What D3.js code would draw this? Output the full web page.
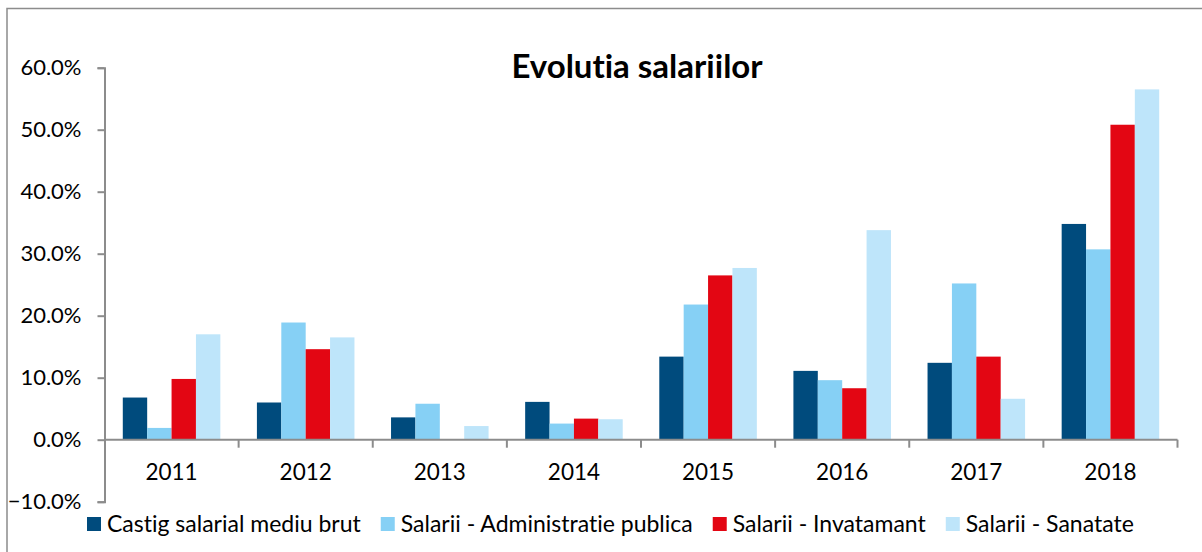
<!DOCTYPE html>
<html>
<head>
<meta charset="utf-8">
<script src="https://cdn.jsdelivr.net/npm/d3@7"></script>
<style>
  body { margin: 0; background: #fff; }
  svg { display: block; font-family: Lato, "Open Sans", sans-serif; font-variant-ligatures: none; }
</style>
</head>
<body>
<svg id="chart"></svg>
<script>
// data
var years = ["2011", "2012", "2013", "2014", "2015", "2016", "2017", "2018"]
var seriesNames = ["Castig salarial mediu brut", "Salarii - Administratie publica", "Salarii - Invatamant", "Salarii - Sanatate"]
var castig = [6.8, 6.0, 3.6, 6.1, 13.4, 11.1, 12.4, 34.8]
var administratie = [1.9, 18.9, 5.8, 2.6, 21.8, 9.6, 25.2, 30.7]
var invatamant = [9.8, 14.6, 0, 3.4, 26.5, 8.3, 13.4, 50.8]
var sanatate = [17.0, 16.5, 2.2, 3.3, 27.7, 33.8, 6.6, 56.5]
var yTicks = [-10, 0, 10, 20, 30, 40, 50, 60]
var colors = ["#004b7d", "#86d0f5", "#e30613", "#bee5fa"]

var values = [castig, administratie, invatamant, sanatate]

var screen = {width: 1202, height: 552}
var plot = {left: 104.5, right: 1177.5, top: 67.7, bottom: 501.7}

var svg = d3.select("#chart")
    .attr("width", screen.width)
    .attr("height", screen.height)

// chart frame
svg.append("rect")
    .attr("x", 7)
    .attr("y", 8.5)
    .attr("width", screen.width + 20)
    .attr("height", screen.height + 20)
    .attr("fill", "none")
    .attr("stroke", "#8c8c8c")
    .attr("stroke-width", 1.5)

var x0 = d3.scaleBand()
    .domain(years)
    .range([plot.left, plot.right])

var x1 = d3.scaleBand()
    .domain(d3.range(seriesNames.length))
    .range([0, x0.bandwidth()])
    .paddingOuter(0.75)

var yScale = d3.scaleLinear()
    .domain([-10, 60])
    .range([plot.bottom, plot.top])

// title
svg.append("text")
    .attr("x", 637)
    .attr("y", 77.5)
    .attr("text-anchor", "middle")
    .attr("font-size", 33)
    .attr("font-weight", "bold")
    .attr("fill", "#000")
    .text("Evolutia salariilor")

// bars
var groups = svg.append("g")
    .selectAll("g")
    .data(years)
    .enter()
    .append("g")
    .attr("transform", function(d) { return "translate(" + x0(d) + ",0)" })

groups.selectAll("rect")
    .data(function(d, i)
        {
            return values.map(function(v, s) { return {s: s, v: v[i]} })
        })
    .enter()
    .filter(function(d) { return d.v !== 0 })
    .append("rect")
    .attr("x", function(d) { return x1(d.s) })
    .attr("width", x1.bandwidth())
    .attr("y", function(d) { return yScale(Math.max(0, d.v)) })
    .attr("height", function(d) { return Math.abs(yScale(d.v) - yScale(0)) })
    .attr("fill", function(d) { return colors[d.s] })

// y axis
var yAxis = d3.axisLeft(yScale)
    .tickValues(yTicks)
    .tickSize(7)
    .tickPadding(16)
    .tickFormat(function(d) { return d3.format(".1f")(d) + "%" })

var yG = svg.append("g")
    .attr("transform", "translate(" + plot.left + ",0)")
    .call(yAxis)
yG.select(".domain").attr("stroke", "#8c8c8c").attr("stroke-width", 2)
yG.selectAll(".tick line").attr("stroke", "#8c8c8c").attr("stroke-width", 2)
yG.selectAll(".tick text")
    .attr("font-size", 22)
    .attr("font-family", "Lato, sans-serif")
    .attr("fill", "#000")

// x axis at zero
var xAxis = d3.axisBottom(x0)
    .tickSize(0)
    .tickPadding(0)

var xG = svg.append("g")
    .attr("transform", "translate(0," + yScale(0) + ")")
    .call(xAxis)
xG.select(".domain").attr("d", "M" + plot.left + ",0H" + plot.right).attr("stroke", "#8c8c8c").attr("stroke-width", 2)
xG.selectAll(".tick text")
    .attr("y", 40)
    .attr("dy", 0)
    .attr("font-size", 22.5)
    .attr("font-family", "Lato, sans-serif")
    .attr("fill", "#000")

// boundary ticks between categories
xG.selectAll(".sep")
    .data(years.slice(1).concat(["end"]))
    .enter()
    .append("line")
    .attr("x1", function(d, i) { return i < years.length - 1 ? x0(d) : plot.right })
    .attr("x2", function(d, i) { return i < years.length - 1 ? x0(d) : plot.right })
    .attr("y1", 0)
    .attr("y2", 8)
    .attr("stroke", "#8c8c8c")
    .attr("stroke-width", 2)

// legend
var legend = svg.append("g")
    .attr("transform", "translate(87,524)")

var lx = 0
seriesNames.forEach(function(name, i)
    {
        var item = legend.append("g").attr("transform", "translate(" + lx + ",0)")
        item.append("rect")
            .attr("x", 0)
            .attr("y", -7)
            .attr("width", 14)
            .attr("height", 14)
            .attr("fill", colors[i])
        var t = item.append("text")
            .attr("x", 20)
            .attr("y", 8)
            .attr("font-size", 23)
            .attr("fill", "#000")
            .text(name)
        lx += 20 + t.node().getComputedTextLength() + 20
    })
</script>
</body>
</html>
